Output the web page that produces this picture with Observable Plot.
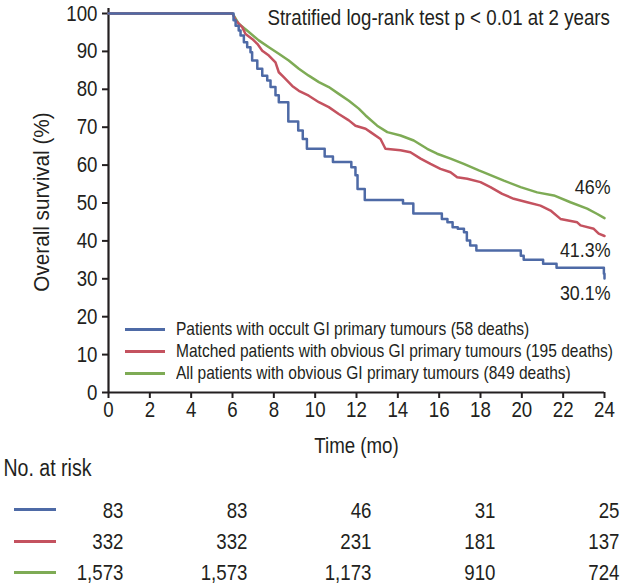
<!DOCTYPE html>
<html><head><meta charset="utf-8">
<script src="https://cdn.jsdelivr.net/npm/d3@7"></script>
<script src="https://cdn.jsdelivr.net/npm/@observablehq/plot@0.6"></script>
<style>
body{margin:0;background:#fff;}
#wrap{position:relative;width:625px;height:586px;font-family:"Liberation Sans",Arial,sans-serif;color:#231f20;}
#wrap svg{display:block;}
.leg{position:absolute;left:125px;top:318px;font-size:18.5px;line-height:22px;}
.leg div{display:flex;align-items:center;white-space:nowrap;}
.leg .tx{display:inline-block;transform:scaleX(0.84);transform-origin:left center;}
.sw{display:inline-block;width:40px;height:3px;margin-right:11px;}
.rsw{position:absolute;left:14px;width:42px;height:3px;}
.ylab{position:absolute;left:42px;top:202px;font-size:22px;white-space:nowrap;transform:translate(-50%,-50%) rotate(-90deg) scaleX(0.94);}
.note{position:absolute;right:15px;top:5px;font-size:22px;line-height:26px;white-space:nowrap;transform:scaleX(0.85);transform-origin:right center;}
</style></head><body><div id="wrap"></div>
<script>
// ---- data ----
const seriesNames = ["Patients with occult GI primary tumours (58 deaths)",
  "Matched patients with obvious GI primary tumours (195 deaths)",
  "All patients with obvious GI primary tumours (849 deaths)"];
const seriesColors = ["#4e6aa6", "#c4525f", "#7eab55"];
const endLabels = ["30.1%", "41.3%", "46%"];

const occultTime = [0,6.0,6.05,6.15,6.30,6.39,6.55,6.71,6.87,6.95,7.20,7.44,7.68,7.84,8.08,8.24,8.70,9.18,9.40,9.60,10.46,10.86,11.75,11.95,12.05,12.40,14.25,14.75,16.13,16.40,16.65,16.90,17.20,17.34,17.50,17.80,19.95,20.09,21.03,21.68,23.97,24.0];
const occultSurv = [100,100,98.2,96.8,95.5,94.2,92.4,91.1,89.8,87.6,85.4,83.6,82.3,80.6,78.4,76.6,71.5,69.1,66.9,64.3,62.3,60.8,59.4,57.3,53.7,50.8,49.9,47.2,45.8,44.9,43.6,43.2,42.3,40.1,38.8,37.5,36.1,35.0,34.0,32.9,31.3,30.1];

const matchedTime = [0,6.0,6.15,6.47,6.63,6.95,7.20,7.44,7.76,8.08,8.24,8.48,8.89,9.21,9.69,10.18,10.66,11.14,11.63,11.95,12.44,12.68,13.16,13.40,14.13,14.61,15.10,15.58,16.06,16.55,16.87,17.36,18.0,18.48,19.05,19.61,20.26,20.90,21.39,21.87,22.68,22.84,23.48,23.72,24.0];
const matchedSurv = [100,100,98.2,96.4,94.6,93.3,92.0,90.2,88.9,87.1,84.5,83.2,80.9,79.6,78.3,76.6,75.3,73.5,71.8,70.4,69.6,68.7,66.9,64.3,63.9,63.4,61.7,60.3,59.0,58.1,56.8,56.4,55.5,54.2,52.4,51.1,50.2,49.3,48.0,45.8,44.9,44.1,43.2,41.9,41.3];

const allTime = [0,6.0,6.30,6.79,7.27,7.76,8.24,8.72,9.21,9.69,10.18,10.66,11.14,11.63,12.11,12.44,13.0,13.49,14.13,14.77,15.42,15.90,16.55,17.19,17.92,18.16,19.13,19.94,20.74,21.55,22.35,23.16,23.65,24.0];
const allSurv = [100,100,97.3,95.1,92.9,91.1,89.4,87.6,85.4,83.6,81.9,80.6,78.8,77.0,74.9,73.1,70.4,68.7,67.8,66.5,64.3,63.0,61.7,60.3,58.6,58.1,55.9,54.2,52.8,52.0,50.2,48.5,47.1,46.0];

const xTicks = [0,2,4,6,8,10,12,14,16,18,20,22,24];
const yTicks = [0,10,20,30,40,50,60,70,80,90,100];
const riskTimes = [0,6,12,18,24];
const riskOccult = [83,83,46,31,25];
const riskMatched = [332,332,231,181,137];
const riskAll = [1573,1573,1173,910,724];
const annotation = "Stratified log-rank test p < 0.01 at 2 years";
const xLabel = "Time (mo)";
const yLabel = "Overall survival (%)";
const riskHeader = "No. at risk";

// ---- build ----
const FONT = '"Liberation Sans",Arial,sans-serif';
const times = [occultTime, matchedTime, allTime];
const survs = [occultSurv, matchedSurv, allSurv];
const curves = [];
times.forEach((ts, i) => ts.forEach((t, j) => curves.push({s: i, t, v: survs[i][j]})));
const ends = survs.map((s, i) => ({s: i, t: times[i][times[i].length-1], v: s[s.length-1], label: endLabels[i]}));
const endDy = [15, 14, -31];
const ink = "#231f20";

const main = Plot.plot({
  width: 625, height: 455, marginLeft: 108, marginRight: 21, marginTop: 13, marginBottom: 63,
  x: {domain: [0, 24]}, y: {domain: [0, 100]},
  style: {fontFamily: FONT, background: "white", color: ink, overflow: "visible"},
  marks: [
    Plot.axisX({ticks: xTicks, tickSize: 6, tickPadding: 3, fontSize: 22, label: null, strokeWidth: 2}),
    Plot.axisY({ticks: yTicks, tickSize: 6, tickPadding: 5, fontSize: 22, label: null, strokeWidth: 2}),
    Plot.ruleY([0], {stroke: ink, strokeWidth: 2.2}),
    Plot.ruleX([0], {stroke: ink, strokeWidth: 2.2, y1: 0, y2: 101.3}),
    Plot.line(curves.filter(d => d.s === 2), {x: "t", y: "v", stroke: seriesColors[2], strokeWidth: 2.5}),
    Plot.line(curves.filter(d => d.s === 1), {x: "t", y: "v", stroke: seriesColors[1], strokeWidth: 2.5}),
    Plot.line(curves.filter(d => d.s === 0), {x: "t", y: "v", stroke: seriesColors[0], strokeWidth: 2.5, curve: "step-after"}),
    ...ends.map((d, i) => Plot.text([d], {x: "t", y: "v", text: "label", textAnchor: "end", dx: 6, dy: endDy[i], fontSize: 21, fill: ink})),
    Plot.text([xLabel], {frameAnchor: "bottom", lineAnchor: "middle", dy: 53, fontSize: 22, fill: ink})
  ]
});

const rowKeys = ["occult", "matched", "all"];
const riskRows = [riskOccult, riskMatched, riskAll];
const riskData = [];
riskRows.forEach((r, i) => r.forEach((n, j) => riskData.push({row: rowKeys[i], t: riskTimes[j], n})));
const fmt = d3.format(",");

const risk = Plot.plot({
  width: 625, height: 131, marginLeft: 108, marginRight: 21, marginTop: 55, marginBottom: 14,
  x: {domain: [0, 24], axis: null},
  y: {type: "point", domain: rowKeys, padding: 0, axis: null},
  style: {fontFamily: FONT, background: "white", color: ink, overflow: "visible"},
  marks: [
    Plot.text(riskData, {x: "t", y: "row", text: d => fmt(d.n), textAnchor: "end", dx: 15, fontSize: 22, fill: ink}),
    Plot.text([riskHeader], {frameAnchor: "top-left", textAnchor: "start", lineAnchor: "middle", dx: -105, dy: -42, fontSize: 23, fill: ink})
  ]
});

const wrap = document.getElementById("wrap");
wrap.appendChild(main);
wrap.appendChild(risk);

// condense SVG text horizontally (reference uses a condensed face)
function condense(svg, f) {
  svg.querySelectorAll("text").forEach(t => {
    const tsp = t.querySelectorAll("tspan");
    const els = tsp.length ? Array.from(tsp) : [t];
    els.forEach(el => {
      const L = el.getComputedTextLength();
      if (L > 0) {
        el.setAttribute("textLength", (L * f).toFixed(2));
        el.setAttribute("lengthAdjust", "spacingAndGlyphs");
      }
    });
  });
}
condense(main, 0.85);
condense(risk, 0.85);

const note = document.createElement("div");
note.className = "note"; note.textContent = annotation;
wrap.appendChild(note);

const ylab = document.createElement("div");
ylab.className = "ylab"; ylab.textContent = yLabel;
wrap.appendChild(ylab);

const leg = document.createElement("div");
leg.className = "leg";
seriesNames.forEach((name, i) => {
  const row = document.createElement("div");
  const sw = document.createElement("span");
  sw.className = "sw"; sw.style.background = seriesColors[i];
  const tx = document.createElement("span");
  tx.className = "tx"; tx.textContent = name;
  row.appendChild(sw);
  row.appendChild(tx);
  leg.appendChild(row);
});
wrap.appendChild(leg);

const rowTops = [509, 541, 572];
seriesColors.forEach((c, i) => {
  const s = document.createElement("div");
  s.className = "rsw"; s.style.background = c; s.style.top = (rowTops[i] - 1) + "px";
  wrap.appendChild(s);
});
</script></body></html>
